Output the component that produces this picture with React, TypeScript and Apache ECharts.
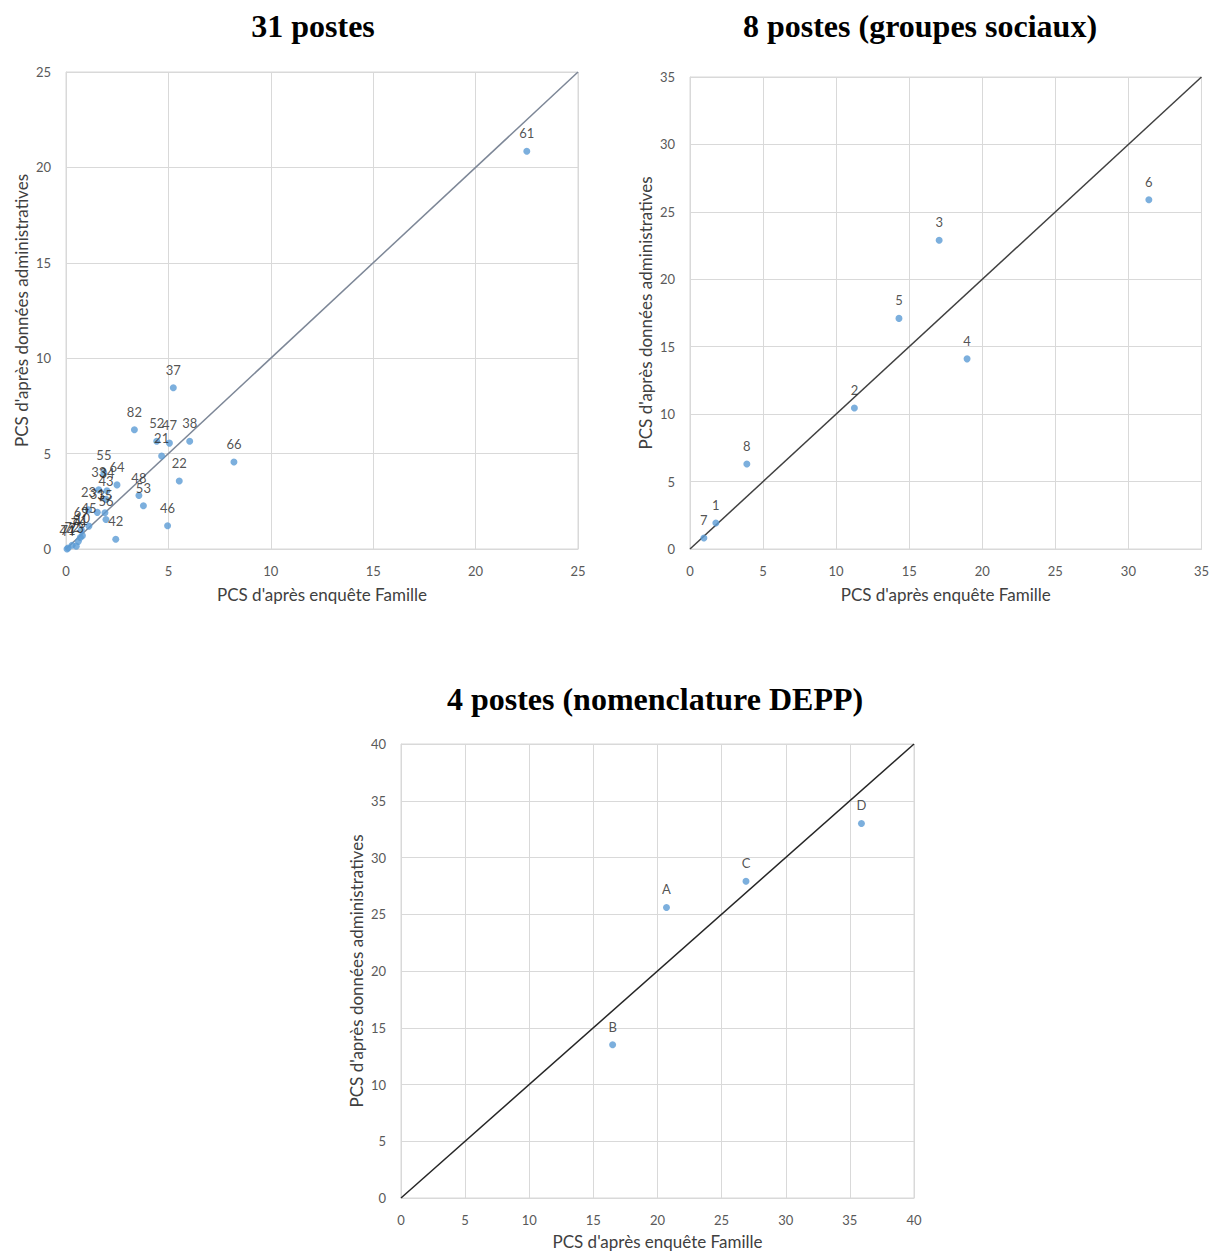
import React, { useEffect, useRef } from "react";
import * as echarts from "echarts";

// ---- Chart 1 : 31 postes ----
const c1Labels = ["61","37","82","52","47","38","21","66","22","64","48","53","46","42","55","33","34","43","23","31","35","56","45","69","71","72","73","76","81","10","44"];
const c1X = [22.5,5.24,3.34,4.43,5.05,6.04,4.67,8.2,5.53,2.49,3.56,3.78,4.96,2.43,1.85,1.6,2.0,1.95,1.1,1.53,1.9,1.95,1.12,0.75,0.1,0.3,0.5,0.6,0.7,0.8,0.05];
const c1Y = [20.85,8.45,6.25,5.65,5.55,5.65,4.87,4.56,3.56,3.36,2.8,2.27,1.22,0.51,4.0,3.1,3.05,2.6,2.05,1.92,1.9,1.55,1.2,1.0,0.05,0.2,0.15,0.4,0.6,0.7,0.0];

// ---- Chart 2 : 8 postes ----
const c2Labels = ["7","1","8","2","5","3","4","6"];
const c2X = [0.95,1.77,3.89,11.25,14.3,17.05,18.96,31.4];
const c2Y = [0.82,1.93,6.3,10.45,17.1,22.9,14.1,25.9];

// ---- Chart 3 : 4 postes ----
const c3Labels = ["A","B","C","D"];
const c3X = [20.7,16.5,26.9,35.9];
const c3Y = [25.6,13.5,27.9,33.0];

const titles = ["31 postes", "8 postes (groupes sociaux)", "4 postes (nomenclature DEPP)"];
const xName = "PCS d'après enquête Famille";
const yName = "PCS d'après données administratives";
const axisMax = [25, 35, 40];

const FONT = "Lato, 'Liberation Sans', sans-serif";

function pts(labels: string[], xs: number[], ys: number[]) {
  return labels.map((l, i) => ({ name: l, value: [xs[i], ys[i]] }));
}

export default function App() {
  const ref = useRef<HTMLDivElement>(null);
  useEffect(() => {
    if (!ref.current) return;
    const chart = echarts.init(ref.current, undefined, { renderer: "svg" });
    const grids = [
      { left: 66, top: 72, width: 512, height: 477 },
      { left: 690, top: 77, width: 513, height: 472 },
      { left: 401, top: 744, width: 513, height: 455 },
    ];
    const titleCenters = [
      { x: 308, y: 5 },
      { x: 915, y: 5 },
      { x: 650, y: 678 },
    ];
    const mkX = (i: number) => ({
      type: "value",
      gridIndex: i,
      min: 0,
      max: axisMax[i],
      interval: 5,
      name: xName,
      nameLocation: "middle",
      nameGap: i === 2 ? 35 : 37,
      nameTextStyle: { fontFamily: FONT, fontSize: 17, color: "#404040" },
      axisLine: { show: true, lineStyle: { color: "#d9d9d9" } },
      axisTick: { show: false },
      axisLabel: { fontFamily: FONT, fontSize: 13, color: "#595959", margin: 15 },
      splitLine: { show: true, lineStyle: { color: "#d9d9d9", width: 1 } },
    });
    const mkY = (i: number) => ({
      type: "value",
      gridIndex: i,
      min: 0,
      max: axisMax[i],
      interval: 5,
      name: yName,
      nameLocation: "middle",
      nameGap: 36,
      nameTextStyle: { fontFamily: FONT, fontSize: 17, color: "#404040" },
      axisLine: { show: true, lineStyle: { color: "#d9d9d9" } },
      axisTick: { show: false },
      axisLabel: { fontFamily: FONT, fontSize: 13, color: "#595959", margin: 15 },
      splitLine: { show: true, lineStyle: { color: "#d9d9d9", width: 1 } },
    });
    const datasets = [
      pts(c1Labels, c1X, c1Y),
      pts(c2Labels, c2X, c2Y),
      pts(c3Labels, c3X, c3Y),
    ];
    const lineColors = ["#7d8797", "#404040", "#262626"];
    const series: any[] = [];
    datasets.forEach((d, i) => {
      series.push({
        type: "line",
        xAxisIndex: i,
        yAxisIndex: i,
        data: [[0, 0], [axisMax[i], axisMax[i]]],
        symbol: "none",
        lineStyle: { color: lineColors[i], width: 1.5 },
        silent: true,
        z: 2,
      });
      series.push({
        type: "scatter",
        xAxisIndex: i,
        yAxisIndex: i,
        data: d,
        symbolSize: 7,
        itemStyle: { color: "#5b9bd5" },
        label: {
          show: true,
          position: "top",
          distance: 8,
          formatter: (p: any) => p.name,
          fontFamily: FONT,
          fontSize: 13,
          color: "#262626",
        },
        labelLayout: { hideOverlap: false },
        z: 3,
      });
    });
    chart.setOption({
      animation: false,
      backgroundColor: "#ffffff",
      title: titles.map((t, i) => ({
        text: t,
        left: titleCenters[i].x,
        top: titleCenters[i].y,
        textAlign: "center",
        textStyle: {
          fontFamily: "'Liberation Serif', 'Times New Roman', serif",
          fontWeight: "bold",
          fontSize: 32,
          color: "#000000",
        },
      })),
      grid: grids.map((g) => ({ ...g, show: true, borderColor: "#d9d9d9", borderWidth: 1, backgroundColor: "transparent" })),
      xAxis: [0, 1, 2].map(mkX),
      yAxis: [0, 1, 2].map(mkY),
      series,
    });
    return () => chart.dispose();
  }, []);
  return (
    <div
      ref={ref}
      style={{ position: "absolute", left: 0, top: 0, width: 1212, height: 1251 }}
    />
  );
}
